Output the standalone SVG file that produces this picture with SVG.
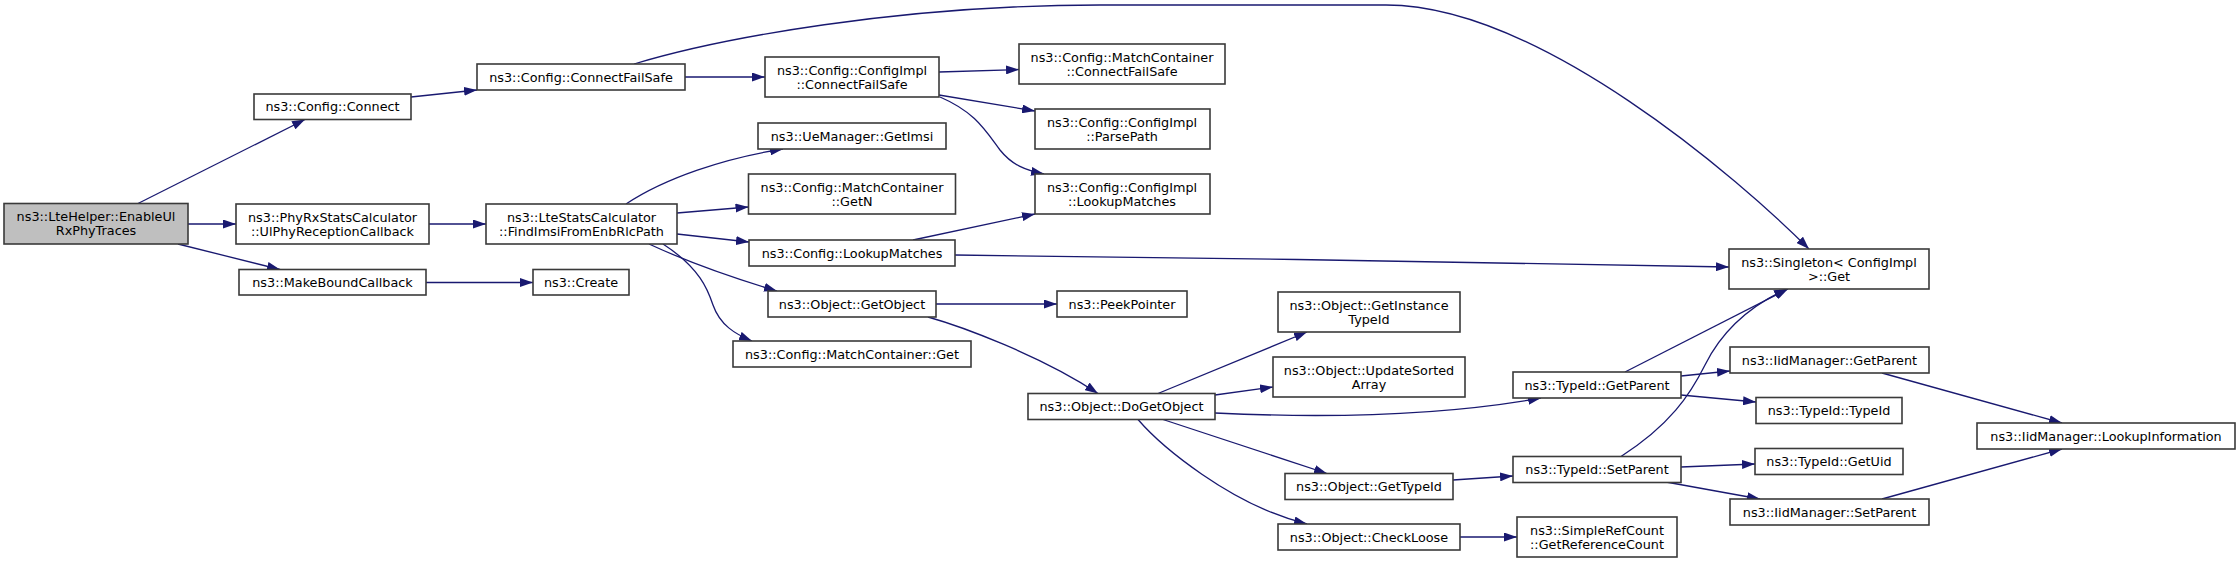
<svg xmlns="http://www.w3.org/2000/svg" width="2240" height="563" viewBox="0 0 2240 563">
<style>
.n rect{fill:#ffffff;stroke:#3a3a3a;stroke-width:1.6}
.n.root rect{fill:#bfbfbf}
.n text{font-family:"DejaVu Sans","Liberation Sans",sans-serif;font-size:12.8px;fill:#000;text-anchor:middle}
.e path{fill:none;stroke:#191970;stroke-width:1.3;marker-end:url(#ah)}
</style>
<defs>
<marker id="ah" viewBox="0 0 13 9" refX="13" refY="4.5" markerWidth="13" markerHeight="9" markerUnits="userSpaceOnUse" orient="auto">
<polygon points="0,0 13,4.5 0,9" fill="#191970"/>
</marker>
</defs>
<rect width="2240" height="563" fill="#ffffff"/>
<g id="edges" class="e">
<path d="M138,203.5 L305,119.5"/>
<path d="M188,224 L236,224"/>
<path d="M178,244 L280,269.5"/>
<path d="M411,97 L477,90"/>
<path d="M429,224 L486,224"/>
<path d="M426,282.5 L533,282.5"/>
<path d="M634,64 C720,38 900,5 1100,5 L1386,5 C1539,5 1740,180 1809,249"/>
<path d="M685,77 L765,77"/>
<path d="M626,204 C665,178 725,158 783,149"/>
<path d="M677,213 L748.5,207"/>
<path d="M677,234 L749,242"/>
<path d="M649,244 C690,263 740,280 777,291"/>
<path d="M663,244 C700,268 708,290 713,305 C720,325 735,334 752,341"/>
<path d="M939,72 L1019,69.5"/>
<path d="M939,95 L1035,111"/>
<path d="M940,97 C975,112 985,130 1000,150 C1012,165 1025,170 1044,174"/>
<path d="M913,240 L1035,214"/>
<path d="M955,255 C1200,258 1500,262 1729,267"/>
<path d="M936,304 L1057,304"/>
<path d="M928,317 C960,326 1040,355 1098,393.5"/>
<path d="M1158,393.5 L1307,332"/>
<path d="M1215,395 L1273,387"/>
<path d="M1215,413 C1320,418 1440,416 1541,398"/>
<path d="M1163,419.5 L1327,473.5"/>
<path d="M1138,419.5 C1160,445 1230,505 1307,524"/>
<path d="M1453,480 L1513,476"/>
<path d="M1460,537 L1517,537"/>
<path d="M1625,372 L1788,289"/>
<path d="M1681,376 L1730,371"/>
<path d="M1681,395 L1756,402"/>
<path d="M1621,456.5 C1670,425 1690,395 1705,365 C1720,335 1745,308 1787,289"/>
<path d="M1681,467 L1755,464"/>
<path d="M1666,482 L1760,499"/>
<path d="M1882,373 L2062,423"/>
<path d="M1882,499 L2062,449"/>
</g>
<g id="n1" class="n root"><rect x="4" y="203.5" width="184" height="40.5"/><text x="96" y="221.4">ns3::LteHelper::EnableUl</text><text x="96" y="235.4">RxPhyTraces</text></g>
<g id="n2" class="n"><rect x="254" y="94" width="157" height="25.5"/><text x="332.5" y="111.4">ns3::Config::Connect</text></g>
<g id="n3" class="n"><rect x="236" y="204" width="193" height="40"/><text x="332.5" y="221.7">ns3::PhyRxStatsCalculator</text><text x="332.5" y="235.7">::UlPhyReceptionCallback</text></g>
<g id="n4" class="n"><rect x="239" y="269.5" width="187" height="25.5"/><text x="332.5" y="286.9">ns3::MakeBoundCallback</text></g>
<g id="n5" class="n"><rect x="477" y="64" width="208" height="26"/><text x="581" y="81.6">ns3::Config::ConnectFailSafe</text></g>
<g id="n6" class="n"><rect x="486" y="204" width="191" height="40"/><text x="581.5" y="221.7">ns3::LteStatsCalculator</text><text x="581.5" y="235.7">::FindImsiFromEnbRlcPath</text></g>
<g id="n7" class="n"><rect x="533" y="269.5" width="96" height="25.5"/><text x="581" y="286.9">ns3::Create</text></g>
<g id="n8" class="n"><rect x="765" y="57" width="174" height="40"/><text x="852" y="74.7">ns3::Config::ConfigImpl</text><text x="852" y="88.7">::ConnectFailSafe</text></g>
<g id="n9" class="n"><rect x="758" y="123" width="188" height="26"/><text x="852" y="140.6">ns3::UeManager::GetImsi</text></g>
<g id="n10" class="n"><rect x="748.5" y="174" width="207" height="40"/><text x="852" y="191.7">ns3::Config::MatchContainer</text><text x="852" y="205.7">::GetN</text></g>
<g id="n11" class="n"><rect x="749" y="240" width="206" height="26"/><text x="852" y="257.6">ns3::Config::LookupMatches</text></g>
<g id="n12" class="n"><rect x="768" y="291" width="168" height="26"/><text x="852" y="308.6">ns3::Object::GetObject</text></g>
<g id="n13" class="n"><rect x="733" y="341" width="238" height="26"/><text x="852" y="358.6">ns3::Config::MatchContainer::Get</text></g>
<g id="n14" class="n"><rect x="1019" y="44" width="206" height="40"/><text x="1122" y="61.7">ns3::Config::MatchContainer</text><text x="1122" y="75.7">::ConnectFailSafe</text></g>
<g id="n15" class="n"><rect x="1035" y="109" width="175" height="40"/><text x="1122" y="126.7">ns3::Config::ConfigImpl</text><text x="1122" y="140.7">::ParsePath</text></g>
<g id="n16" class="n"><rect x="1035" y="174" width="175" height="40"/><text x="1122" y="191.7">ns3::Config::ConfigImpl</text><text x="1122" y="205.7">::LookupMatches</text></g>
<g id="n17" class="n"><rect x="1057" y="291" width="130" height="26"/><text x="1122" y="308.6">ns3::PeekPointer</text></g>
<g id="n18" class="n"><rect x="1028" y="393.5" width="187" height="26"/><text x="1121.5" y="411.1">ns3::Object::DoGetObject</text></g>
<g id="n19" class="n"><rect x="1278" y="292" width="182" height="40"/><text x="1369" y="309.7">ns3::Object::GetInstance</text><text x="1369" y="323.7">TypeId</text></g>
<g id="n20" class="n"><rect x="1273" y="357" width="192" height="40"/><text x="1369" y="374.7">ns3::Object::UpdateSorted</text><text x="1369" y="388.7">Array</text></g>
<g id="n21" class="n"><rect x="1285" y="473.5" width="168" height="26"/><text x="1369" y="491.1">ns3::Object::GetTypeId</text></g>
<g id="n22" class="n"><rect x="1278" y="524" width="182" height="26"/><text x="1369" y="541.6">ns3::Object::CheckLoose</text></g>
<g id="n23" class="n"><rect x="1513" y="372" width="168" height="26"/><text x="1597" y="389.6">ns3::TypeId::GetParent</text></g>
<g id="n24" class="n"><rect x="1513" y="456.5" width="168" height="26"/><text x="1597" y="474.1">ns3::TypeId::SetParent</text></g>
<g id="n25" class="n"><rect x="1517" y="517" width="160" height="40"/><text x="1597" y="534.7">ns3::SimpleRefCount</text><text x="1597" y="548.7">::GetReferenceCount</text></g>
<g id="n26" class="n"><rect x="1729" y="249" width="200" height="40"/><text x="1829" y="266.7">ns3::Singleton&lt; ConfigImpl</text><text x="1829" y="280.7">&gt;::Get</text></g>
<g id="n27" class="n"><rect x="1730" y="347" width="199" height="26"/><text x="1829.5" y="364.6">ns3::IidManager::GetParent</text></g>
<g id="n28" class="n"><rect x="1756" y="397.5" width="146" height="26"/><text x="1829" y="415.1">ns3::TypeId::TypeId</text></g>
<g id="n29" class="n"><rect x="1755" y="448.5" width="148" height="26"/><text x="1829" y="466.1">ns3::TypeId::GetUid</text></g>
<g id="n30" class="n"><rect x="1730" y="499" width="199" height="26"/><text x="1829.5" y="516.6">ns3::IidManager::SetParent</text></g>
<g id="n31" class="n"><rect x="1977" y="423" width="258" height="26"/><text x="2106" y="440.6">ns3::IidManager::LookupInformation</text></g>
</svg>
